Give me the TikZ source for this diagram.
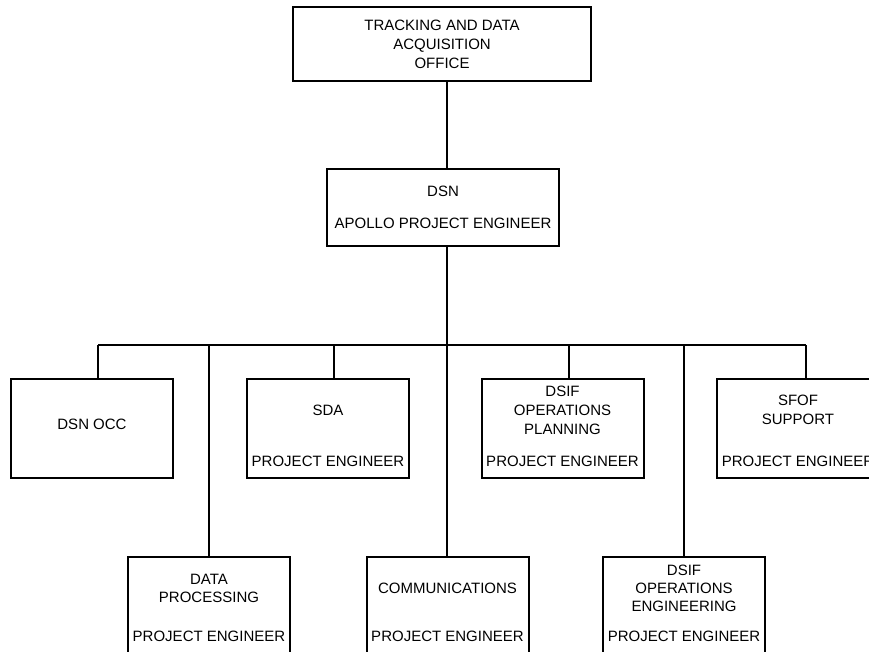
\documentclass[tikz,border=0pt]{standalone}
\usepackage{fontspec}
\setmainfont{Liberation Sans}
\usetikzlibrary{positioning, calc}
\tikzset{
  every picture/.style={x=1pt, y=-1pt, line width=1.6pt},
  box/.style={draw, line width=2pt, minimum width=162pt, minimum height=99pt, inner sep=0pt},
  lbl/.style={font=\fontsize{15pt}{19pt}\selectfont, align=center, inner sep=0pt},
  wire/.style={line width=1.6pt},
}
\begin{document}
\begin{tikzpicture}
  \useasboundingbox (0,0) rectangle (869,651);
  \clip (0,0) rectangle (869,651);
  \node[box, lbl, minimum width=298pt, minimum height=74pt] (top) at (442,44)
    {TRACKING AND DATA\\ACQUISITION\\OFFICE};
  \node[box, lbl, minimum width=232pt, minimum height=77pt] (dsn) at (443,207.5)
    {DSN\\[13pt]APOLLO PROJECT ENGINEER};
  % first row
  \node[box] (occ) at (92,428.5) {};
  \node[lbl] (occ-t) at (92,424) {DSN OCC};
  \foreach \n/\x/\t in {
      sda/328/SDA,
      plan/562.5/{DSIF\\OPERATIONS\\PLANNING},
      sfof/798/{SFOF\\SUPPORT}} {
    \node[box] (\n) at (\x,428.5) {};
    \node[lbl] (\n-t) at (\x,410) {\t};
    \node[lbl] (\n-pe) at (\x,461) {PROJECT ENGINEER};
  }
  % second row
  \foreach \n/\x/\t in {
      dp/209/{DATA\\PROCESSING},
      comm/447.5/COMMUNICATIONS,
      eng/684/{DSIF\\OPERATIONS\\ENGINEERING}} {
    \node[box] (\n) at (\x,606.5) {};
    \node[lbl, font=\fontsize{15pt}{18pt}\selectfont] (\n-t) at (\x,588) {\t};
    \node[lbl] (\n-pe) at (\x,636) {PROJECT ENGINEER};
  }
  % connectors
  \coordinate (bus) at (0,345);
  \draw[wire] ([xshift=5pt]top.south) -- ([xshift=5pt]top.south |- dsn.north);
  \draw[wire] ([xshift=4pt]dsn.south) -- ([xshift=4pt]dsn.south |- comm.north);
  \draw[wire] ([xshift=6pt]occ.north |- bus) -- ([xshift=8pt]sfof.north |- bus);
  \foreach \n/\s in {occ/6, sda/6, plan/6.5, sfof/8}
    \draw[wire] ([xshift=\s pt]\n.north) -- ([xshift=\s pt]\n.north |- bus);
  \foreach \n in {dp, eng}
    \draw[wire] (\n.north) -- (\n.north |- bus);
\end{tikzpicture}
\end{document}
